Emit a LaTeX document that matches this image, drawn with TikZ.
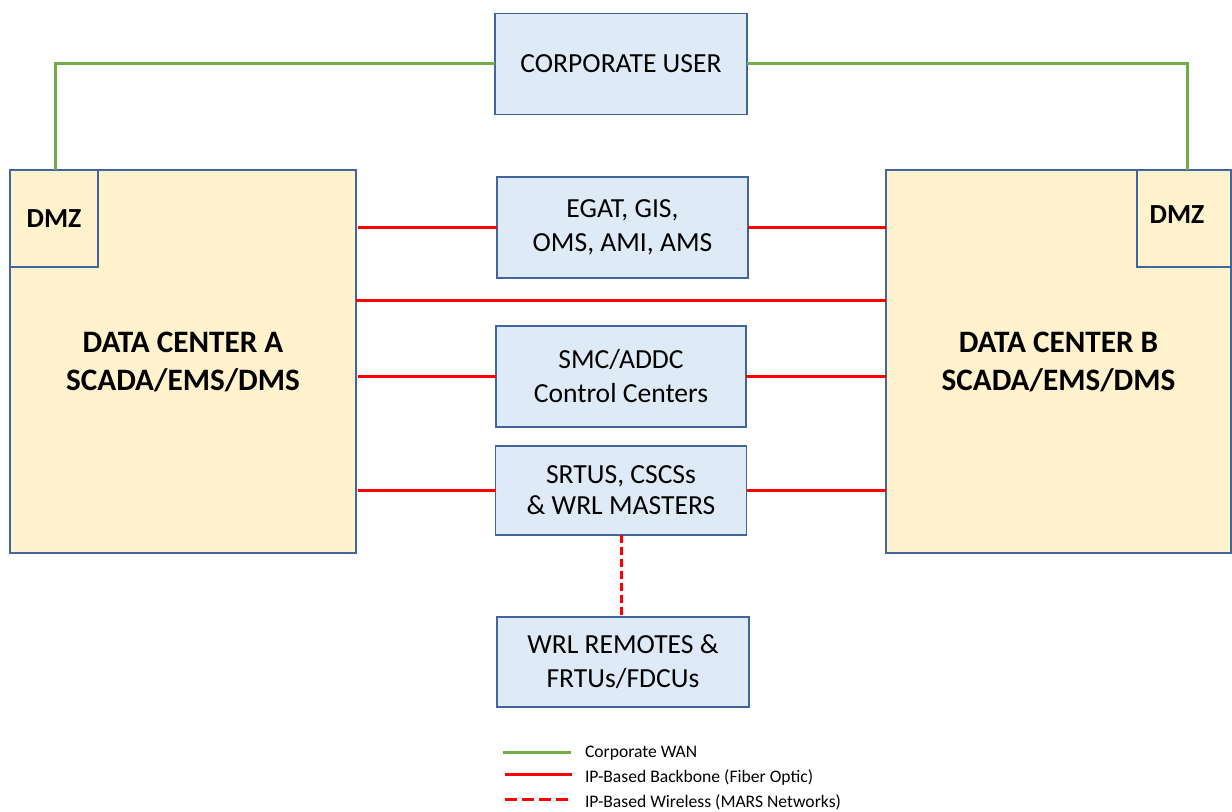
\documentclass[tikz,border=0pt]{standalone}
\usepackage{fontspec}
\setmainfont{Carlito}
\definecolor{boxfill}{HTML}{DEEBF7}
\definecolor{boxline}{HTML}{41659C}
\definecolor{dcfill}{HTML}{FFF2CC}
\definecolor{wan}{HTML}{70AD47}
\definecolor{fiber}{HTML}{FF0000}
\begin{document}
\begin{tikzpicture}[x=0.5pt,y=-0.5pt,
  every node/.style={inner sep=2pt, outer sep=0pt},
  sysbox/.style={draw=boxline, line width=0.8pt, fill=boxfill, align=center,
    font=\fontsize{13.8}{17}\selectfont},
  dcbox/.style={draw=boxline, line width=0.8pt, fill=dcfill, align=center,
    font=\bfseries\fontsize{15.6}{19}\selectfont},
  dmzbox/.style={draw=boxline, line width=0.8pt, fill=dcfill,
    font=\bfseries\fontsize{13.8}{17}\selectfont},
  wanline/.style={draw=wan, line width=1.5pt},
  fiberline/.style={draw=fiber, line width=1.5pt},
  wireless/.style={draw=fiber, line width=1.5pt, dash pattern=on 4pt off 2pt},
  legtext/.style={anchor=west, font=\fontsize{8.8}{10}\selectfont}]
\useasboundingbox (0,0) rectangle (1232,812);

% data centres with their DMZ corners
\node[dcbox, minimum width=173pt, minimum height=191.5pt] (dca) at (183,361.5)
  {DATA CENTER A\\SCADA/EMS/DMS};
\node[dmzbox, minimum width=44pt, minimum height=48.5pt] (dmza) at (54,218.5) {DMZ};
\node[dcbox, minimum width=172.5pt, minimum height=191.5pt] (dcb) at (1058.5,361.5)
  {DATA CENTER B\\SCADA/EMS/DMS};
\node[dmzbox, minimum width=47pt, minimum height=48.5pt] (dmzb) at (1184,218.5) {};
\node[font=\bfseries\fontsize{13.8}{17}\selectfont] (dmzbt) at (1177,215) {DMZ};

% central systems
\node[sysbox, minimum width=126pt, minimum height=50.5pt] (cu) at (621,64) {CORPORATE USER};
\node[sysbox, minimum width=125.5pt, minimum height=50.5pt] (egat) at (622.5,227.5)
  {EGAT, GIS,\\OMS, AMI, AMS};
\node[sysbox, minimum width=125pt, minimum height=50.5pt] (smc) at (621,376.5)
  {SMC/ADDC\\Control Centers};
\node[sysbox, minimum width=125.5pt, minimum height=44.5pt,
  font=\fontsize{13.8}{15.5}\selectfont] (srtus) at (621,490.5)
  {SRTUS, CSCSs\\\& WRL MASTERS};
\node[sysbox, minimum width=126pt, minimum height=45pt] (wrl) at (623,662)
  {WRL REMOTES \&\\FRTUs/FDCUs};

% corporate WAN
\coordinate (wanA) at (55,170);
\coordinate (wanB) at (1187,170);
\draw[wanline] (cu.west) -| (wanA);
\draw[wanline] (cu.east) -| (wanB);

% fibre backbone
\coordinate (bb) at (621,301);
\draw[fiberline] ([xshift=1pt]egat.west -| dca.east) -- (egat.west);
\draw[fiberline] (egat.east) -- (egat.east -| dcb.west);
\draw[fiberline] (bb -| dca.east) -- (bb -| dcb.west);
\draw[fiberline] ([xshift=1pt]smc.west -| dca.east) -- (smc.west);
\draw[fiberline] (smc.east) -- (smc.east -| dcb.west);
\draw[fiberline] ([xshift=1pt]srtus.west -| dca.east) -- (srtus.west);
\draw[fiberline] (srtus.east) -- (srtus.east -| dcb.west);

% wireless link
\draw[wireless] (srtus.south) -- (srtus.south |- wrl.north);

% legend
\coordinate (l1a) at (503,752); \coordinate (l1b) at (571,752);
\coordinate (l2a) at (505,774); \coordinate (l2b) at (572,774);
\coordinate (l3a) at (505,799); \coordinate (l3b) at (570,799);
\draw[wanline] (l1a) -- (l1b);
\draw[fiberline] (l2a) -- (l2b);
\draw[fiberline, dash pattern=on 6pt off 2.5pt] (l3a) -- (l3b);
\node[legtext] (t1) at (581,753) {Corporate WAN};
\node[legtext] (t2) at (581,777) {IP-Based Backbone (Fiber Optic)};
\node[legtext] (t3) at (581,802) {IP-Based Wireless (MARS Networks)};
\end{tikzpicture}
\end{document}
